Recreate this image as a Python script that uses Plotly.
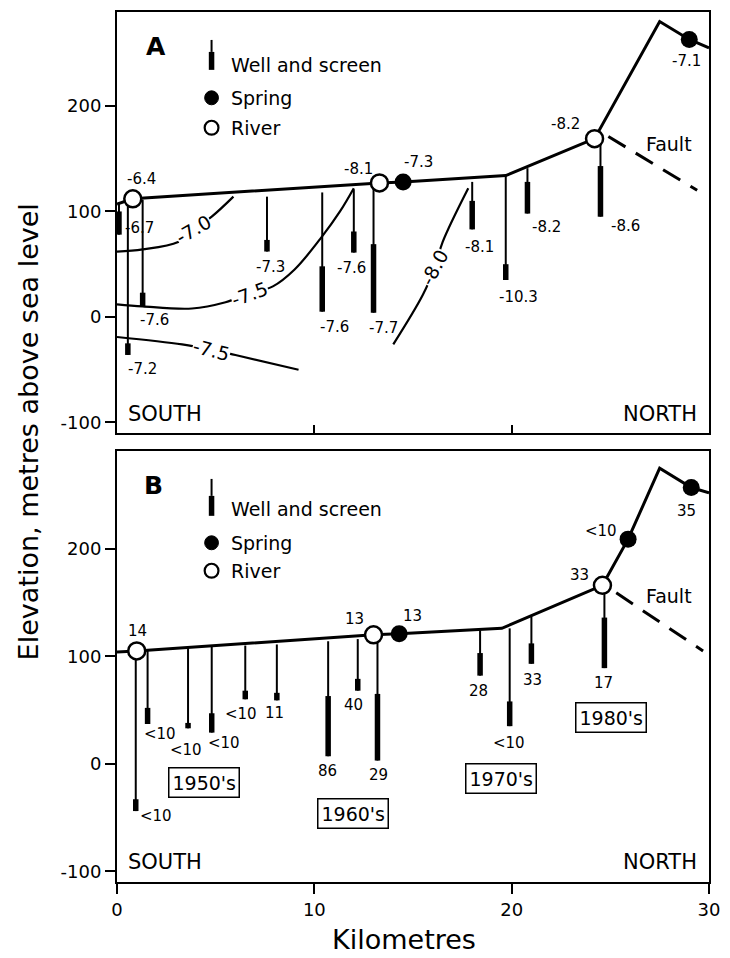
import plotly.graph_objects as go

FONT = "DejaVu Sans"

# ---------------- Panel A (isotope values) ----------------
ground_A_km = [0, 0.8, 13.3, 14.5, 19.7, 24.2, 27.5, 29.0, 30]
ground_A_elev = [107, 112, 127, 128, 134, 169, 280, 263, 255]

river_A_km = [0.8, 13.3, 24.2]
river_A_elev = [112, 127, 169]
river_A_lab = ["-6.4", "-8.1", "-8.2"]
spring_A_km = [14.5, 29.0]
spring_A_elev = [128, 263]
spring_A_lab = ["-7.3", "-7.1"]

wellA_km = [0.1, 0.55, 1.3, 7.6, 10.4, 12.0, 13.0, 18.0, 19.7, 20.8, 24.5]
wellA_top = [107, 110, 111, 114, 118, 121, 125, 128, 134, 141, 169]
wellA_scr = [100, -25, 23, 73, 48, 81, 69, 110, 50, 128, 143]
wellA_bot = [78, -36, 10, 62, 5, 61, 4, 83, 35, 98, 95]
wellA_lab = ["-6.7", "-7.2", "-7.6", "-7.3", "-7.6", "-7.6", "-7.7", "-8.1", "-10.3", "-8.2", "-8.6"]

faultA_km = [24.9, 29.4]
faultA_elev = [171, 120]

c70_km = [0, 1.3, 3.1, 3.9, 4.8, 5.9]
c70_el = [62, 64, 71, 83, 95, 114]
c75a_km = [0, 1.3, 3.8, 5.5, 6.7, 7.9, 9.0, 10.3, 11.3, 12.0]
c75a_el = [12, 10, 8, 14, 22, 29, 45, 74, 100, 122]
c75b_km = [0, 3.3, 4.8, 6.0, 9.2]
c75b_el = [-19, -26, -31, -36, -50]
c80_km = [14.0, 15.5, 16.1, 16.5, 17.8]
c80_el = [-26, 21, 47, 71, 122]
contour_labels = ["-7.0", "-7.5", "-7.5", "-8.0"]
contour_lab_km = [3.9, 6.7, 4.8, 16.1]
contour_lab_el = [83, 22, -31, 47]

# ---------------- Panel B (tritium values) ----------------
ground_B_km = [0, 1.0, 13.0, 14.3, 19.5, 24.6, 25.9, 27.5, 29.1, 30]
ground_B_elev = [104, 105, 120, 121, 126, 166, 209, 275, 257, 252]

river_B_km = [1.0, 13.0, 24.6]
river_B_elev = [105, 120, 166]
river_B_lab = ["14", "13", "33"]
spring_B_km = [14.3, 25.9, 29.1]
spring_B_elev = [121, 209, 257]
spring_B_lab = ["13", "<10", "35"]

wellB_km = [0.95, 1.55, 3.6, 4.8, 6.5, 8.1, 10.7, 12.2, 13.2, 18.4, 19.9, 21.0, 24.7]
wellB_top = [105, 106, 108, 109, 110, 111, 114, 116, 119, 124, 126, 137, 166]
wellB_scr = [-33, 52, 38, 47, 68, 66, 63, 79, 65, 103, 58, 112, 136]
wellB_bot = [-44, 37, 33, 29, 60, 59, 7, 68, 3, 82, 35, 93, 89]
wellB_lab = ["<10", "<10", "<10", "<10", "<10", "11", "86", "40", "29", "28", "<10", "33", "17"]

faultB_km = [25.3, 29.7]
faultB_elev = [159, 105]

decades = ["1950's", "1960's", "1970's", "1980's"]

y_tickvals = [-100, 0, 100, 200]
y_ticktext = ["-100", "0", "100", "200"]
x_tickvals = [0, 10, 20, 30]

# ---------------- label offsets (pixels) ----------------
wellA_dx = [21, 15, 12, 4, 12, -2, 10, 7, 13, 19, 25]
wellA_dy = [-7, 14, 14, 15, 15, 15, 15, 18, 17, 13, 9]
riverA_off = [(9, -20), (-21, -14), (-29, -15)]
springA_off = [(15, -20), (-3, 22)]
wellB_dx = [20, 12, -2, 12, -4, -2, -1, -4, 1, -2, -1, 1, -1]
wellB_dy = [5, 10, 22, 10, 15, 13, 15, 14, 14, 15, 17, 16, 15]
riverB_off = [(1, -20), (-19, -16), (-23, -10)]
springB_off = [(13, -18), (-27, -8), (-5, 23)]
contour_angles = [-30, -20, 15, -62]
decade_px = [(205, 782), (357, 813), (507, 778), (619, 717)]

L, R, T, B = 117, 718, 10, 882
W, H = 730, 958


def px(x):
    return (x - L) / (R - L)


def py(y):
    return (B - y) / (B - T)


def segs(xs, y0s, y1s):
    X, Y = [], []
    for x, a, b in zip(xs, y0s, y1s):
        X += [x, x, None]
        Y += [a, b, None]
    return X, Y


fig = go.Figure()

panels = [
    dict(xa="x", ya="y", ground=(ground_A_km, ground_A_elev),
         river=(river_A_km, river_A_elev), spring=(spring_A_km, spring_A_elev),
         well=(wellA_km, wellA_top, wellA_scr, wellA_bot), fault=(faultA_km, faultA_elev)),
    dict(xa="x2", ya="y2", ground=(ground_B_km, ground_B_elev),
         river=(river_B_km, river_B_elev), spring=(spring_B_km, spring_B_elev),
         well=(wellB_km, wellB_top, wellB_scr, wellB_bot), fault=(faultB_km, faultB_elev)),
]

# contours (panel A)
for cx, cy in [(c70_km, c70_el), (c75a_km, c75a_el), (c75b_km, c75b_el), (c80_km, c80_el)]:
    fig.add_trace(go.Scatter(x=cx, y=cy, mode="lines", xaxis="x", yaxis="y",
                             line=dict(color="black", width=2.2, shape="spline", smoothing=1.0),
                             hoverinfo="skip", showlegend=False))

for p in panels:
    km, top, scr, bot = p["well"]
    X, Y = segs(km, top, bot)
    fig.add_trace(go.Scatter(x=X, y=Y, mode="lines", xaxis=p["xa"], yaxis=p["ya"],
                             line=dict(color="black", width=2), showlegend=False, hoverinfo="skip"))
    X, Y = segs(km, scr, bot)
    fig.add_trace(go.Scatter(x=X, y=Y, mode="lines", xaxis=p["xa"], yaxis=p["ya"],
                             line=dict(color="black", width=5.5), showlegend=False, hoverinfo="skip"))
    fig.add_trace(go.Scatter(x=p["fault"][0], y=p["fault"][1], mode="lines", xaxis=p["xa"], yaxis=p["ya"],
                             line=dict(color="black", width=3, dash="20px,12px"), showlegend=False))
    fig.add_trace(go.Scatter(x=p["ground"][0], y=p["ground"][1], mode="lines", xaxis=p["xa"], yaxis=p["ya"],
                             line=dict(color="black", width=3), showlegend=False))
    fig.add_trace(go.Scatter(x=p["river"][0], y=p["river"][1], mode="markers", xaxis=p["xa"], yaxis=p["ya"],
                             marker=dict(size=17, color="white", line=dict(color="black", width=2.5)),
                             showlegend=False))
    fig.add_trace(go.Scatter(x=p["spring"][0], y=p["spring"][1], mode="markers", xaxis=p["xa"], yaxis=p["ya"],
                             marker=dict(size=17, color="black"), showlegend=False))

ann = []
lab_font = dict(family=FONT, size=15, color="black")


def add_lab(x, y, t, dx, dy, xr, yr, font=lab_font):
    ann.append(dict(x=x, y=y, xref=xr, yref=yr, text=t, showarrow=False,
                    xshift=dx, yshift=-dy, font=font, xanchor="center", yanchor="middle"))


def add_paper(x, y, t, font, xanchor="center", **kw):
    d = dict(x=px(x), y=py(y), xref="paper", yref="paper", text=t, showarrow=False,
             xanchor=xanchor, yanchor="middle", font=font)
    d.update(kw)
    ann.append(d)


for i, t in enumerate(wellA_lab):
    add_lab(wellA_km[i], wellA_bot[i], t, wellA_dx[i], wellA_dy[i], "x", "y")
for i, t in enumerate(river_A_lab):
    add_lab(river_A_km[i], river_A_elev[i], t, riverA_off[i][0], riverA_off[i][1], "x", "y")
for i, t in enumerate(spring_A_lab):
    add_lab(spring_A_km[i], spring_A_elev[i], t, springA_off[i][0], springA_off[i][1], "x", "y")
for i, t in enumerate(wellB_lab):
    add_lab(wellB_km[i], wellB_bot[i], t, wellB_dx[i], wellB_dy[i], "x2", "y2")
for i, t in enumerate(river_B_lab):
    add_lab(river_B_km[i], river_B_elev[i], t, riverB_off[i][0], riverB_off[i][1], "x2", "y2")
for i, t in enumerate(spring_B_lab):
    add_lab(spring_B_km[i], spring_B_elev[i], t, springB_off[i][0], springB_off[i][1], "x2", "y2")

for i, t in enumerate(contour_labels):
    ann.append(dict(x=contour_lab_km[i], y=contour_lab_el[i], xref="x", yref="y", text=t,
                    showarrow=False, textangle=contour_angles[i], bgcolor="white", borderpad=0,
                    xanchor="center", yanchor="middle",
                    font=dict(family=FONT, size=19, color="black")))

for t, (cx, cy) in zip(decades, decade_px):
    add_paper(cx, cy, t, dict(family=FONT, size=19, color="black"),
              bordercolor="black", borderwidth=1.5, borderpad=3, bgcolor="white")

big = dict(family=FONT, size=21, color="black")
for sy in [413, 862]:
    add_paper(126, sy, "SOUTH", big, xanchor="left")
    add_paper(708, sy, "NORTH", big, xanchor="right")

for t, (cx, cy) in [("A", (157, 45)), ("B", (154, 485))]:
    add_paper(cx, cy, "<b>" + t + "</b>", dict(family=FONT, size=25, color="black"))

for fy in [142, 595]:
    add_paper(677, fy, "Fault", dict(family=FONT, size=19, color="black"))

# legends (drawn keys)
shapes = []
leg_font = dict(family=FONT, size=19, color="black")
for (w0, w1, w2, wt, sp, rv) in [(38, 50, 68, 63, 96, 126), (478, 495, 515, 508, 542, 570)]:
    shapes.append(dict(type="line", xref="paper", yref="paper", x0=px(213), x1=px(213),
                       y0=py(w0), y1=py(w1), line=dict(color="black", width=2)))
    shapes.append(dict(type="line", xref="paper", yref="paper", x0=px(213), x1=px(213),
                       y0=py(w1), y1=py(w2), line=dict(color="black", width=5.5)))
    shapes.append(dict(type="circle", xref="paper", yref="paper", x0=px(206), x1=px(220),
                       y0=py(sp + 7), y1=py(sp - 7), fillcolor="black", line=dict(color="black", width=1)))
    shapes.append(dict(type="circle", xref="paper", yref="paper", x0=px(206), x1=px(220),
                       y0=py(rv + 7), y1=py(rv - 7), fillcolor="white", line=dict(color="black", width=2.2)))
    for t, yy in [("Well and screen", wt), ("Spring", sp), ("River", rv)]:
        add_paper(231, yy, t, leg_font, xanchor="left")

# axis titles
add_paper(408, 940, "Kilometres", dict(family=FONT, size=27, color="black"))
add_paper(27, 431, "Elevation, metres above sea level", dict(family=FONT, size=27, color="black"),
          textangle=-90)

tickfont = dict(family=FONT, size=18, color="black")
common_y = dict(tickvals=y_tickvals, ticktext=y_ticktext, ticks="outside", ticklen=10, tickwidth=2,
                tickcolor="black", showline=True, linewidth=2, linecolor="black", mirror=True,
                showgrid=False, zeroline=False, tickfont=tickfont)
common_x = dict(range=[0, 30], showline=True, linewidth=2, linecolor="black", mirror=True,
                showgrid=False, zeroline=False, tickfont=tickfont, tickcolor="black", tickwidth=2)

fig.update_layout(
    width=W, height=H,
    margin=dict(l=L, r=W - R, t=T, b=H - B),
    paper_bgcolor="white", plot_bgcolor="white",
    xaxis=dict(common_x, domain=[0, 1], anchor="y", tickvals=[10, 20], ticks="inside",
               ticklen=8, showticklabels=False),
    yaxis=dict(common_y, domain=[(B - 432) / (B - T), 1], range=[-110, 289], anchor="x"),
    xaxis2=dict(common_x, domain=[0, 1], anchor="y2", tickvals=x_tickvals, ticks="outside",
                ticklen=10),
    yaxis2=dict(common_y, domain=[0, (B - 450) / (B - T)], range=[-110, 291], anchor="x2"),
    annotations=ann, shapes=shapes, showlegend=False,
)

fig.write_html("out.html")
